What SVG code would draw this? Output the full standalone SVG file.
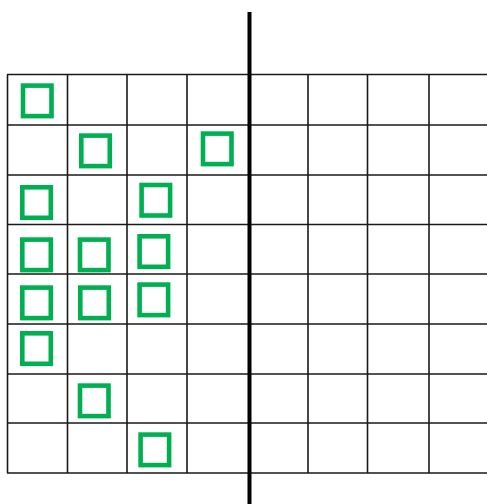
<svg xmlns="http://www.w3.org/2000/svg" width="487" height="504" viewBox="0 0 487 504">
<style>
.g{stroke:#1a1a1a;stroke-width:1.6;fill:none}
.t{stroke:#000;stroke-width:4;fill:none}
.s{fill:none;stroke:#00B050;stroke-width:4.6}
</style>
<rect width="487" height="504" fill="#fff"/>
<g id="grid">
<path class="g" d="M7 74.5H487M7 125H487M7 175H487M7 224.5H487M7 274H487M7 324H487M7 374H487M7 423H487M7 473H487"/>
<path class="g" d="M7.5 74.5V473M67.5 74.5V473M127 74.5V473M187 74.5V473M308 74.5V473M367.5 74.5V473M429 74.5V473"/>
</g>
<g id="divider">
<line class="t" x1="249.5" y1="12" x2="249.5" y2="504"/>
</g>
<g id="squares">
<rect class="s" x="23" y="85.6" width="28.5" height="30.5"/>
<rect class="s" x="81.3" y="135.6" width="28.5" height="30.5"/>
<rect class="s" x="203" y="133.6" width="28.5" height="30.5"/>
<rect class="s" x="22.3" y="187.3" width="28.5" height="30.5"/>
<rect class="s" x="141.6" y="185" width="28.5" height="30.5"/>
<rect class="s" x="22.3" y="239.6" width="28.5" height="30.5"/>
<rect class="s" x="80" y="239.6" width="28.5" height="30.5"/>
<rect class="s" x="139.6" y="236.3" width="28.5" height="30.5"/>
<rect class="s" x="22.3" y="287.6" width="28.5" height="30.5"/>
<rect class="s" x="80.3" y="287.6" width="28.5" height="30.5"/>
<rect class="s" x="139.6" y="284.6" width="28.5" height="30.5"/>
<rect class="s" x="22.3" y="333.3" width="28.5" height="30.5"/>
<rect class="s" x="80" y="385.6" width="28.5" height="30.5"/>
<rect class="s" x="140.6" y="434.6" width="28.5" height="30.5"/>
</g>
</svg>
